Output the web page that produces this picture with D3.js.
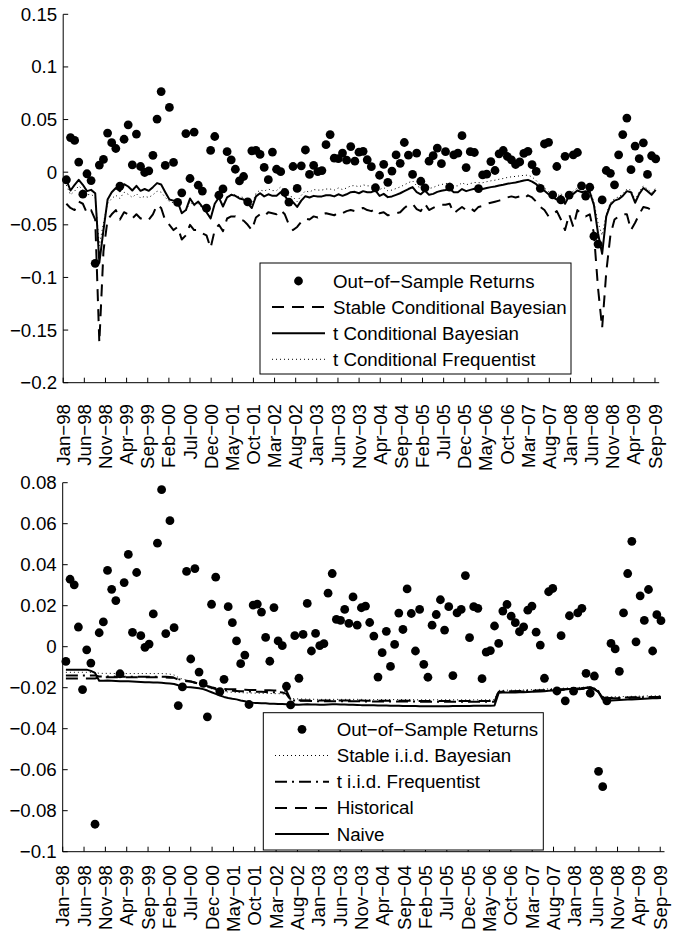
<!DOCTYPE html>
<html><head><meta charset="utf-8">
<script src="https://cdn.jsdelivr.net/npm/d3@7"></script>
<style>body{margin:0;background:#fff}svg{display:block}text{font-family:"Liberation Sans",Arial,sans-serif;fill:#000}</style>
</head><body><svg id="c" width="673" height="934"></svg>
<script>
const tickLabels = ["Jan−98","Jun−98","Nov−98","Apr−99","Sep−99","Feb−00","Jul−00","Dec−00","May−01","Oct−01","Mar−02","Aug−02","Jan−03","Jun−03","Nov−03","Apr−04","Sep−04","Feb−05","Jul−05","Dec−05","May−06","Oct−06","Mar−07","Aug−07","Jan−08","Jun−08","Nov−08","Apr−09","Sep−09"];
const topYTicks = [0.15,0.1,0.05,0,-0.05,-0.1,-0.15,-0.2];
const botYTicks = [0.08,0.06,0.04,0.02,0,-0.02,-0.04,-0.06,-0.08,-0.1];

const returns = [
-0.0072,0.0329,0.0302,0.0096,-0.0209,-0.0015,-0.0080,-0.0866,0.0068,0.0121,0.0372,0.0280,
0.0225,-0.0132,0.0313,0.0450,0.0070,0.0362,0.0054,-0.0003,0.0013,0.0160,0.0505,0.0766,
0.0064,0.0615,0.0093,-0.0287,-0.0196,0.0367,-0.0060,0.0381,-0.0124,-0.0179,-0.0342,0.0207,
0.0339,-0.0219,-0.0159,0.0195,0.0117,0.0028,-0.0083,-0.0041,-0.0282,0.0203,0.0208,0.0169,
0.0045,-0.0071,0.0191,0.0028,0.0005,-0.0193,-0.0284,0.0054,-0.0154,0.0060,0.0211,-0.0021,
0.0065,0.0005,0.0015,0.0261,0.0357,0.0133,0.0128,0.0182,0.0114,0.0243,0.0105,0.0190,
0.0198,0.0118,0.0052,-0.0148,-0.0029,0.0075,-0.0096,0.0011,0.0164,0.0084,0.0282,0.0162,
-0.0021,0.0182,-0.0086,-0.0149,0.0105,0.0157,0.0229,0.0081,0.0195,-0.0141,0.0165,0.0182,
0.0347,0.0044,0.0195,0.0187,-0.0156,-0.0026,-0.0019,0.0101,0.0016,0.0174,0.0206,0.0149,
0.0117,0.0073,0.0097,0.0178,0.0198,0.0071,0.0008,-0.0154,0.0268,0.0284,-0.0216,0.0054,
-0.0264,0.0151,-0.0217,0.0165,0.0187,-0.0130,-0.0227,-0.0143,-0.0608,-0.0683,-0.0264,0.0016,
-0.0011,-0.0120,0.0165,0.0357,0.0514,0.0024,0.0248,0.0128,0.0279,-0.0021,0.0156,0.0127];

const stableCondBayes = [
-0.0300,-0.0340,-0.0360,-0.0280,-0.0300,-0.0390,-0.0360,-0.0450,-0.1620,-0.0750,-0.0450,-0.0400,
-0.0360,-0.0450,-0.0380,-0.0400,-0.0440,-0.0400,-0.0440,-0.0430,-0.0450,-0.0400,-0.0310,-0.0340,
-0.0460,-0.0500,-0.0550,-0.0520,-0.0640,-0.0600,-0.0500,-0.0550,-0.0550,-0.0580,-0.0600,-0.0720,
-0.0550,-0.0500,-0.0560,-0.0440,-0.0420,-0.0420,-0.0450,-0.0460,-0.0500,-0.0550,-0.0430,-0.0400,
-0.0420,-0.0380,-0.0390,-0.0400,-0.0360,-0.0400,-0.0500,-0.0550,-0.0520,-0.0470,-0.0440,-0.0450,
-0.0420,-0.0430,-0.0400,-0.0390,-0.0400,-0.0410,-0.0380,-0.0390,-0.0370,-0.0360,-0.0370,-0.0350,
-0.0340,-0.0360,-0.0370,-0.0350,-0.0390,-0.0380,-0.0410,-0.0400,-0.0390,-0.0380,-0.0340,-0.0310,
-0.0300,-0.0350,-0.0370,-0.0300,-0.0360,-0.0340,-0.0320,-0.0310,-0.0310,-0.0300,-0.0390,-0.0360,
-0.0330,-0.0360,-0.0340,-0.0370,-0.0330,-0.0320,-0.0300,-0.0290,-0.0280,-0.0270,-0.0260,-0.0240,
-0.0230,-0.0240,-0.0230,-0.0250,-0.0220,-0.0240,-0.0280,-0.0330,-0.0360,-0.0420,-0.0400,-0.0370,
-0.0450,-0.0550,-0.0400,-0.0520,-0.0360,-0.0400,-0.0420,-0.0400,-0.0580,-0.1100,-0.1480,-0.0950,
-0.0600,-0.0450,-0.0420,-0.0400,-0.0400,-0.0550,-0.0480,-0.0400,-0.0330,-0.0340,-0.0360,-0.0340];

const tCondBayes = [
-0.0073,-0.0174,-0.0120,-0.0073,-0.0120,-0.0180,-0.0168,-0.0200,-0.0860,-0.0550,-0.0260,-0.0190,
-0.0150,-0.0180,-0.0114,-0.0136,-0.0174,-0.0130,-0.0177,-0.0160,-0.0177,-0.0142,-0.0104,-0.0117,
-0.0190,-0.0260,-0.0270,-0.0280,-0.0390,-0.0360,-0.0250,-0.0310,-0.0280,-0.0330,-0.0380,-0.0440,
-0.0300,-0.0240,-0.0326,-0.0240,-0.0215,-0.0225,-0.0250,-0.0260,-0.0295,-0.0340,-0.0230,-0.0200,
-0.0230,-0.0210,-0.0225,-0.0225,-0.0190,-0.0225,-0.0280,-0.0285,-0.0330,-0.0270,-0.0228,-0.0240,
-0.0225,-0.0230,-0.0230,-0.0220,-0.0220,-0.0230,-0.0210,-0.0225,-0.0210,-0.0190,-0.0187,-0.0200,
-0.0180,-0.0190,-0.0190,-0.0174,-0.0225,-0.0206,-0.0237,-0.0230,-0.0215,-0.0200,-0.0180,-0.0160,
-0.0142,-0.0190,-0.0210,-0.0174,-0.0215,-0.0206,-0.0187,-0.0177,-0.0170,-0.0158,-0.0190,-0.0190,
-0.0160,-0.0180,-0.0168,-0.0158,-0.0160,-0.0160,-0.0150,-0.0142,-0.0136,-0.0127,-0.0120,-0.0110,
-0.0104,-0.0098,-0.0089,-0.0079,-0.0073,-0.0089,-0.0114,-0.0150,-0.0177,-0.0210,-0.0237,-0.0260,
-0.0225,-0.0300,-0.0225,-0.0206,-0.0174,-0.0190,-0.0180,-0.0190,-0.0310,-0.0580,-0.0776,-0.0420,
-0.0310,-0.0270,-0.0256,-0.0225,-0.0180,-0.0190,-0.0290,-0.0206,-0.0150,-0.0180,-0.0215,-0.0168];

const tCondFreq = [
-0.0123,-0.0214,-0.0180,-0.0130,-0.0165,-0.0215,-0.0210,-0.0240,-0.0700,-0.0480,-0.0300,-0.0250,
-0.0220,-0.0250,-0.0190,-0.0210,-0.0240,-0.0205,-0.0245,-0.0230,-0.0240,-0.0215,-0.0180,-0.0190,
-0.0240,-0.0280,-0.0290,-0.0300,-0.0380,-0.0370,-0.0280,-0.0320,-0.0300,-0.0340,-0.0380,-0.0430,
-0.0300,-0.0250,-0.0310,-0.0240,-0.0210,-0.0215,-0.0235,-0.0240,-0.0270,-0.0310,-0.0200,-0.0170,
-0.0180,-0.0160,-0.0175,-0.0175,-0.0140,-0.0175,-0.0230,-0.0235,-0.0280,-0.0220,-0.0178,-0.0190,
-0.0165,-0.0170,-0.0170,-0.0160,-0.0160,-0.0170,-0.0150,-0.0165,-0.0150,-0.0130,-0.0127,-0.0140,
-0.0120,-0.0130,-0.0130,-0.0114,-0.0165,-0.0146,-0.0177,-0.0170,-0.0155,-0.0140,-0.0120,-0.0100,
-0.0082,-0.0130,-0.0150,-0.0114,-0.0155,-0.0146,-0.0127,-0.0117,-0.0110,-0.0098,-0.0130,-0.0130,
-0.0100,-0.0120,-0.0108,-0.0098,-0.0100,-0.0100,-0.0090,-0.0082,-0.0076,-0.0067,-0.0060,-0.0050,
-0.0044,-0.0040,-0.0035,-0.0030,-0.0028,-0.0045,-0.0080,-0.0120,-0.0150,-0.0185,-0.0210,-0.0230,
-0.0200,-0.0270,-0.0200,-0.0180,-0.0150,-0.0165,-0.0160,-0.0170,-0.0280,-0.0480,-0.0600,-0.0400,
-0.0290,-0.0250,-0.0235,-0.0205,-0.0160,-0.0170,-0.0265,-0.0185,-0.0130,-0.0160,-0.0195,-0.0150];

const stableIidBayes = [
-0.0125,-0.0125,-0.0125,-0.0125,-0.0125,-0.0125,-0.0125,-0.0125,-0.0130,-0.0130,-0.0130,-0.0130,
-0.0131,-0.0131,-0.0131,-0.0131,-0.0131,-0.0131,-0.0131,-0.0131,-0.0131,-0.0131,-0.0131,-0.0131,
-0.0132,-0.0134,-0.0138,-0.0150,-0.0158,-0.0163,-0.0168,-0.0175,-0.0183,-0.0190,-0.0198,-0.0205,
-0.0212,-0.0216,-0.0219,-0.0221,-0.0222,-0.0223,-0.0224,-0.0225,-0.0226,-0.0226,-0.0227,-0.0227,
-0.0228,-0.0228,-0.0229,-0.0229,-0.0230,-0.0235,-0.0253,-0.0254,-0.0255,-0.0255,-0.0256,-0.0256,
-0.0257,-0.0257,-0.0257,-0.0257,-0.0257,-0.0257,-0.0257,-0.0257,-0.0257,-0.0257,-0.0257,-0.0257,
-0.0258,-0.0258,-0.0258,-0.0258,-0.0258,-0.0258,-0.0258,-0.0258,-0.0258,-0.0258,-0.0258,-0.0258,
-0.0259,-0.0259,-0.0259,-0.0259,-0.0259,-0.0259,-0.0259,-0.0259,-0.0259,-0.0259,-0.0259,-0.0259,
-0.0259,-0.0259,-0.0259,-0.0259,-0.0259,-0.0259,-0.0259,-0.0259,-0.0213,-0.0213,-0.0212,-0.0212,
-0.0212,-0.0211,-0.0211,-0.0210,-0.0210,-0.0209,-0.0208,-0.0207,-0.0206,-0.0205,-0.0204,-0.0203,
-0.0202,-0.0201,-0.0200,-0.0199,-0.0198,-0.0197,-0.0196,-0.0200,-0.0215,-0.0243,-0.0245,-0.0245,
-0.0244,-0.0244,-0.0243,-0.0243,-0.0242,-0.0242,-0.0241,-0.0241,-0.0240,-0.0240,-0.0240,-0.0239];

const tIidFreq = [
-0.0140,-0.0140,-0.0140,-0.0140,-0.0140,-0.0140,-0.0140,-0.0140,-0.0145,-0.0145,-0.0145,-0.0145,
-0.0146,-0.0146,-0.0146,-0.0146,-0.0146,-0.0146,-0.0146,-0.0146,-0.0146,-0.0146,-0.0146,-0.0146,
-0.0147,-0.0148,-0.0150,-0.0158,-0.0163,-0.0166,-0.0170,-0.0176,-0.0182,-0.0188,-0.0195,-0.0201,
-0.0207,-0.0210,-0.0212,-0.0214,-0.0215,-0.0216,-0.0217,-0.0218,-0.0219,-0.0219,-0.0220,-0.0220,
-0.0221,-0.0221,-0.0222,-0.0222,-0.0223,-0.0230,-0.0262,-0.0263,-0.0263,-0.0264,-0.0264,-0.0265,
-0.0266,-0.0266,-0.0266,-0.0266,-0.0266,-0.0266,-0.0266,-0.0266,-0.0266,-0.0266,-0.0266,-0.0266,
-0.0267,-0.0267,-0.0267,-0.0267,-0.0267,-0.0267,-0.0267,-0.0267,-0.0267,-0.0267,-0.0267,-0.0267,
-0.0268,-0.0268,-0.0268,-0.0268,-0.0268,-0.0268,-0.0268,-0.0268,-0.0268,-0.0268,-0.0268,-0.0268,
-0.0268,-0.0268,-0.0268,-0.0268,-0.0268,-0.0268,-0.0268,-0.0268,-0.0218,-0.0218,-0.0217,-0.0217,
-0.0217,-0.0216,-0.0216,-0.0215,-0.0215,-0.0214,-0.0213,-0.0212,-0.0211,-0.0210,-0.0209,-0.0208,
-0.0207,-0.0206,-0.0205,-0.0204,-0.0203,-0.0202,-0.0201,-0.0205,-0.0218,-0.0248,-0.0250,-0.0250,
-0.0249,-0.0249,-0.0248,-0.0248,-0.0247,-0.0247,-0.0246,-0.0246,-0.0245,-0.0245,-0.0245,-0.0244];

const historical = [
-0.0155,-0.0155,-0.0155,-0.0155,-0.0155,-0.0155,-0.0155,-0.0155,-0.0150,-0.0150,-0.0149,-0.0149,
-0.0149,-0.0149,-0.0149,-0.0149,-0.0149,-0.0149,-0.0149,-0.0149,-0.0149,-0.0149,-0.0149,-0.0150,
-0.0150,-0.0151,-0.0152,-0.0160,-0.0165,-0.0168,-0.0170,-0.0175,-0.0180,-0.0185,-0.0192,-0.0198,
-0.0203,-0.0205,-0.0206,-0.0207,-0.0208,-0.0208,-0.0209,-0.0210,-0.0211,-0.0211,-0.0212,-0.0212,
-0.0213,-0.0213,-0.0214,-0.0214,-0.0215,-0.0215,-0.0258,-0.0260,-0.0261,-0.0262,-0.0262,-0.0263,
-0.0263,-0.0263,-0.0263,-0.0263,-0.0263,-0.0263,-0.0263,-0.0263,-0.0263,-0.0263,-0.0263,-0.0263,
-0.0264,-0.0264,-0.0264,-0.0264,-0.0264,-0.0264,-0.0264,-0.0264,-0.0264,-0.0264,-0.0264,-0.0264,
-0.0265,-0.0265,-0.0265,-0.0265,-0.0265,-0.0265,-0.0265,-0.0265,-0.0265,-0.0265,-0.0265,-0.0265,
-0.0265,-0.0265,-0.0265,-0.0265,-0.0265,-0.0265,-0.0265,-0.0265,-0.0220,-0.0220,-0.0220,-0.0220,
-0.0219,-0.0219,-0.0218,-0.0218,-0.0217,-0.0217,-0.0216,-0.0215,-0.0214,-0.0213,-0.0212,-0.0211,
-0.0210,-0.0209,-0.0208,-0.0207,-0.0206,-0.0205,-0.0204,-0.0208,-0.0220,-0.0250,-0.0252,-0.0252,
-0.0251,-0.0251,-0.0250,-0.0250,-0.0249,-0.0249,-0.0248,-0.0248,-0.0247,-0.0247,-0.0246,-0.0246];

const naive = [
-0.0112,-0.0112,-0.0112,-0.0112,-0.0112,-0.0112,-0.0118,-0.0128,-0.0166,-0.0166,-0.0165,-0.0166,
-0.0167,-0.0168,-0.0168,-0.0169,-0.0170,-0.0171,-0.0172,-0.0173,-0.0174,-0.0175,-0.0175,-0.0176,
-0.0178,-0.0180,-0.0182,-0.0188,-0.0193,-0.0196,-0.0198,-0.0200,-0.0203,-0.0207,-0.0214,-0.0222,
-0.0230,-0.0238,-0.0245,-0.0250,-0.0254,-0.0257,-0.0262,-0.0266,-0.0272,-0.0274,-0.0275,-0.0276,
-0.0276,-0.0278,-0.0278,-0.0279,-0.0280,-0.0281,-0.0284,-0.0282,-0.0283,-0.0282,-0.0281,-0.0282,
-0.0282,-0.0283,-0.0283,-0.0282,-0.0281,-0.0281,-0.0282,-0.0282,-0.0283,-0.0283,-0.0284,-0.0285,
-0.0285,-0.0286,-0.0286,-0.0287,-0.0287,-0.0287,-0.0288,-0.0288,-0.0288,-0.0289,-0.0289,-0.0289,
-0.0289,-0.0290,-0.0290,-0.0290,-0.0290,-0.0290,-0.0290,-0.0290,-0.0290,-0.0289,-0.0289,-0.0289,
-0.0289,-0.0289,-0.0288,-0.0288,-0.0288,-0.0288,-0.0288,-0.0287,-0.0225,-0.0224,-0.0223,-0.0223,
-0.0223,-0.0222,-0.0222,-0.0221,-0.0220,-0.0219,-0.0218,-0.0217,-0.0215,-0.0214,-0.0212,-0.0210,
-0.0208,-0.0206,-0.0205,-0.0204,-0.0203,-0.0200,-0.0197,-0.0205,-0.0222,-0.0258,-0.0262,-0.0262,
-0.0261,-0.0260,-0.0259,-0.0258,-0.0257,-0.0256,-0.0255,-0.0254,-0.0253,-0.0252,-0.0251,-0.0250];

// position of each observation on the month axis (Jan-98 = 0)
const obsMonth = returns.map((_, i) => 0.75 + 0.975 * i);
const tickMonth = tickLabels.map((_, j) => 5 * j);
const xEnd = 141;
const FS = "18.7px";

const svg = d3.select("#c");
const fmt = v => v === 0 ? "0" : (v < 0 ? "−" : "") + String(Math.abs(v));

function panel(cfg) {
  const x = d3.scaleLinear().domain([0, xEnd]).range(cfg.xr);
  const y = d3.scaleLinear().domain(cfg.yd).range(cfg.yr);
  const g = svg.append("g");
  const x0 = cfg.xr[0], yb = cfg.yr[0], yt = cfg.yr[1];
  const idx = d3.range(returns.length);
  g.append("g").selectAll("circle").data(idx).join("circle")
    .attr("cx", i => x(obsMonth[i])).attr("cy", i => y(returns[i])).attr("r", 4.4).attr("fill", "#000");
  cfg.series.forEach(s => {
    const line = d3.line().x(i => x(obsMonth[i])).y(i => y(s.data[i]));
    g.append("path").attr("d", line(idx)).attr("fill", "none").attr("stroke", "#000")
      .attr("stroke-width", s.w).attr("stroke-dasharray", s.dash || null).attr("stroke-linejoin", "round");
  });
  g.append("line").attr("x1", x0).attr("x2", x0).attr("y1", yt).attr("y2", yb).attr("stroke", "#000");
  g.append("line").attr("x1", x0).attr("x2", cfg.xr[1]).attr("y1", yb).attr("y2", yb).attr("stroke", "#000");
  cfg.yticks.forEach(v => {
    g.append("line").attr("x1", x0).attr("x2", x0 + 5).attr("y1", y(v)).attr("y2", y(v)).attr("stroke", "#000");
    g.append("text").attr("x", x0 - 6).attr("y", y(v)).attr("dy", "0.35em").attr("text-anchor", "end")
      .style("font-size", FS).text(fmt(v));
  });
  tickMonth.forEach((m, j) => {
    const xx = x(m);
    g.append("line").attr("x1", xx).attr("x2", xx).attr("y1", yb).attr("y2", yb - 5).attr("stroke", "#000");
    g.append("text").attr("transform", `translate(${xx},${cfg.labelTop}) rotate(-90)`)
      .attr("dy", "0.35em").attr("text-anchor", "end").style("font-size", FS).text(tickLabels[j]);
  });
  const L = cfg.legend;
  const lg = g.append("g");
  lg.append("rect").attr("x", L.x).attr("y", L.y).attr("width", L.w).attr("height", L.h)
    .attr("fill", "#fff").attr("stroke", "#000");
  L.items.forEach((it, k) => {
    const cy = L.row0 + k * L.step;
    if (it.dot) {
      lg.append("circle").attr("cx", (L.s0 + L.s1) / 2).attr("cy", cy).attr("r", 4.4).attr("fill", "#000");
    } else {
      lg.append("line").attr("x1", L.s0).attr("x2", L.s1).attr("y1", cy).attr("y2", cy)
        .attr("stroke", "#000").attr("stroke-width", it.w).attr("stroke-dasharray", it.dash || null);
    }
    lg.append("text").attr("x", L.tx).attr("y", cy).attr("dy", "0.35em").style("font-size", FS).text(it.name);
  });
}

const sDash = {w: 2, dash: "12,8"}, sSolid = {w: 2}, sDot = {w: 1, dash: "1,3"}, sDashDot = {w: 2, dash: "12,5,2,5"};

panel({
  xr: [63.2, 63.2 + 4.227 * xEnd], yd: [-0.2, 0.15], yr: [382.7, 14.3], yticks: topYTicks, labelTop: 404,
  series: [{data: stableCondBayes, ...sDash}, {data: tCondBayes, ...sSolid}, {data: tCondFreq, ...sDot}],
  legend: {x: 260, y: 263, w: 311, h: 111, row0: 281, step: 26.1, s0: 272, s1: 325, tx: 333,
    items: [{name: "Out−of−Sample Returns", dot: true}, {name: "Stable Conditional Bayesian", ...sDash},
      {name: "t Conditional Bayesian", ...sSolid}, {name: "t Conditional Frequentist", ...sDot}]}
});

panel({
  xr: [62.7, 62.7 + 4.268 * xEnd], yd: [-0.1, 0.08], yr: [851.7, 482.7], yticks: botYTicks, labelTop: 865,
  series: [{data: stableIidBayes, ...sDot}, {data: tIidFreq, ...sDashDot}, {data: historical, ...sDash}, {data: naive, ...sSolid}],
  legend: {x: 263.3, y: 712.7, w: 280, h: 137.3, row0: 729.3, step: 26.2, s0: 275, s1: 329, tx: 336.7,
    items: [{name: "Out−of−Sample Returns", dot: true}, {name: "Stable i.i.d. Bayesian", ...sDot},
      {name: "t i.i.d. Frequentist", ...sDashDot}, {name: "Historical", ...sDash}, {name: "Naive", ...sSolid}]}
});
</script></body></html>
